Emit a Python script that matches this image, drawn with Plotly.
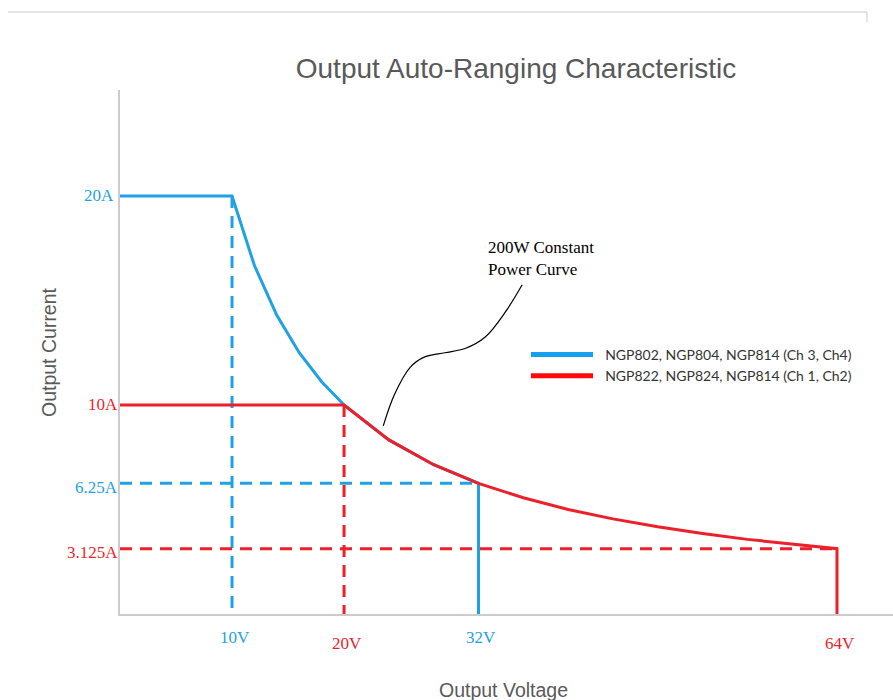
import plotly.graph_objects as go

# Output characteristic data (volts, amps)
blue_v = [0, 10, 12, 14, 16, 18, 20, 24, 28, 32, 32]
blue_i = [20, 20, 16.67, 14.29, 12.5, 11.11, 10, 8.33, 7.14, 6.25, 0]
red_v = [0, 20, 24, 28, 32, 36, 40, 44, 48, 52, 56, 60, 64, 64]
red_i = [10, 10, 8.33, 7.14, 6.25, 5.56, 5.0, 4.55, 4.17, 3.85, 3.57, 3.33, 3.125, 0]

blue_name = "NGP802, NGP804, NGP814 (Ch 3, Ch4)"
red_name = "NGP822, NGP824, NGP814 (Ch 1, Ch2)"

# Marked operating corners
blue_corners = [(10, 20), (32, 6.25)]
red_corners = [(20, 10), (64, 3.125)]
i_labels = [(20, "20A", "blue"), (10, "10A", "red"), (6.25, "6.25A", "blue"), (3.125, "3.125A", "red")]
v_labels = [(10, "10V", "blue"), (20, "20V", "red"), (32, "32V", "blue"), (64, "64V", "red")]

# Leader line for the constant power note
leader_v = [23.5, 24.5, 25.9, 27.2, 29.0, 30.8, 32.6, 34.4, 35.9]
leader_i = [9.0, 10.5, 11.8, 12.3, 12.5, 12.7, 13.25, 14.45, 15.75]

BLUE = "#1ea2e4"
RED = "#ec1f2b"
COLORS = {"blue": BLUE, "red": RED}
SERIF = "Liberation Serif"
SANS = "Liberation Sans"
GREY = "#595959"

# plot area in pixels
L, T, B, W, H = 120, 90, 86, 893, 700
PW, PH = W - L, H - T - B


def px(xp):
    return (xp - L) / PW


def py(yp):
    return (H - B - yp) / PH


fig = go.Figure()

# Dashed guides from each corner to the axes
for corners, col in ((blue_corners, BLUE), (red_corners, RED)):
    v1, i1 = corners[0]
    v2, i2 = corners[1]
    fig.add_trace(go.Scatter(x=[v1, v1], y=[i1, 0], mode="lines",
                             line=dict(color=col, width=3, dash="12px,8px"),
                             showlegend=False, hoverinfo="skip"))
    fig.add_trace(go.Scatter(x=[0, v2], y=[i2, i2], mode="lines",
                             line=dict(color=col, width=3, dash="12px,8px"),
                             showlegend=False, hoverinfo="skip"))

fig.add_trace(go.Scatter(x=blue_v, y=blue_i, mode="lines",
                         line=dict(color=BLUE, width=3), showlegend=False))
fig.add_trace(go.Scatter(x=red_v, y=red_i, mode="lines",
                         line=dict(color=RED, width=3), showlegend=False))

fig.add_trace(go.Scatter(x=leader_v, y=leader_i, mode="lines",
                         line=dict(color="black", width=1.2, shape="spline"),
                         showlegend=False, hoverinfo="skip"))

# Legend entries
fig.add_trace(go.Scatter(x=[None], y=[None], mode="lines", name="\u00a0\u00a0" + blue_name,
                         line=dict(color="#14a0ec", width=5)))
fig.add_trace(go.Scatter(x=[None], y=[None], mode="lines", name="\u00a0\u00a0" + red_name,
                         line=dict(color="#ff0a0a", width=5)))

annotations = []
for val, txt, c in i_labels:
    annotations.append(dict(x=0, y=val, xref="x", yref="y", text=txt, showarrow=False,
                            xanchor="right", yanchor="middle", xshift=-4 if val > 10 else 0,
                            yshift=-4 if val < 10 else 0,
                            font=dict(family=SERIF, size=17, color=COLORS[c])))
for val, txt, c in v_labels:
    annotations.append(dict(x=val, y=0, xref="x", yref="y", text=txt, showarrow=False,
                            xanchor="center", yanchor="top",
                            yshift=-12 if c == "blue" else -18,
                            xshift=3,
                            font=dict(family=SERIF, size=17, color=COLORS[c])))
annotations.append(dict(x=px(486), y=py(236), xref="paper", yref="paper",
                        text="200W Constant<br>Power Curve",
                        showarrow=False, xanchor="left", yanchor="top", align="left",
                        font=dict(family=SERIF, size=17, color="black")))
annotations.append(dict(x=px(49), y=py(352), xref="paper", yref="paper", text="Output Current",
                        showarrow=False, textangle=-90, xanchor="center", yanchor="middle",
                        font=dict(family=SANS, size=19.5, color=GREY)))
annotations.append(dict(x=px(503), y=py(690), xref="paper", yref="paper", text="Output Voltage",
                        showarrow=False, xanchor="center", yanchor="middle",
                        font=dict(family=SANS, size=19.5, color=GREY)))

fig.update_layout(
    width=W, height=H,
    margin=dict(l=L, r=0, t=T, b=B),
    paper_bgcolor="white", plot_bgcolor="white",
    title=dict(text="Output Auto-Ranging Characteristic", x=516 / W, xanchor="center",
               y=1 - 68 / H, yanchor="middle",
               font=dict(family=SANS, size=28, color=GREY)),
    xaxis=dict(range=[0, 69], showgrid=False, zeroline=False, showticklabels=False,
               ticks="", showline=True, linecolor="#cccccc", linewidth=2),
    yaxis=dict(range=[0, 25.07], showgrid=False, zeroline=False, showticklabels=False,
               ticks="", showline=True, linecolor="#cccccc", linewidth=2),
    legend=dict(x=px(526), y=py(339), xanchor="left", yanchor="top",
                itemwidth=62, bgcolor="rgba(0,0,0,0)", tracegroupgap=0,
                font=dict(family="Lato", size=14, color="#333333")),
    showlegend=True,
    annotations=annotations,
)

# Outer frame fragments
fig.add_shape(type="line", xref="paper", yref="paper",
              x0=px(8), x1=px(867), y0=py(12), y1=py(12),
              line=dict(color="#dddddd", width=1.5))
fig.add_shape(type="line", xref="paper", yref="paper",
              x0=px(867), x1=px(867), y0=py(12), y1=py(22),
              line=dict(color="#dddddd", width=1.5))

fig.write_html("out.html")
